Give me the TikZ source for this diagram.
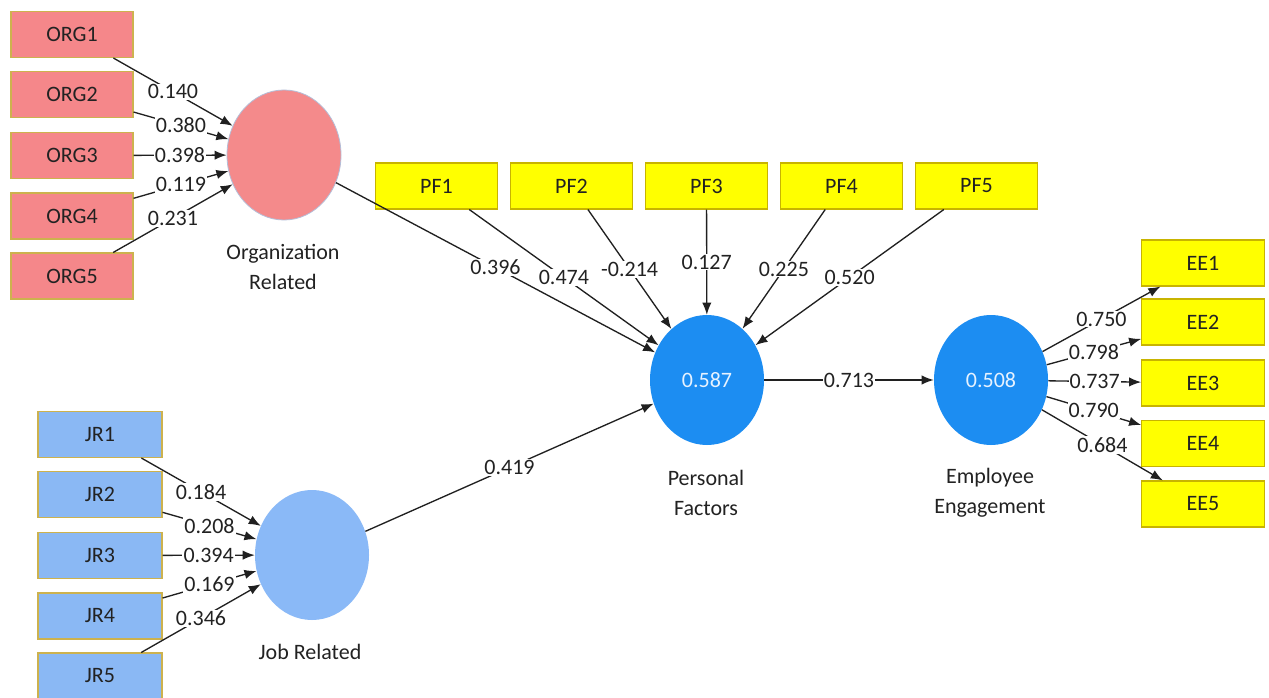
\documentclass[tikz,border=0pt]{standalone}
\usepackage{fontspec}
\setmainfont{Carlito}
\usetikzlibrary{shapes.geometric,arrows.meta}
\definecolor{orgfill}{HTML}{F5878A}
\definecolor{orgcirc}{HTML}{F48A8B}
\definecolor{orgcircborder}{HTML}{B4BED8}
\definecolor{boxborder}{HTML}{CDB24E}
\definecolor{jrfill}{HTML}{8AB8F4}
\definecolor{jrcirc}{HTML}{8AB9F7}
\definecolor{bluec}{HTML}{1C8DF2}
\definecolor{yel}{HTML}{FFFF00}
\definecolor{yelborder}{HTML}{C8B400}
\definecolor{linec}{HTML}{202020}
\definecolor{txt}{HTML}{222222}
\definecolor{circtxt}{HTML}{E6F2FF}
\begin{document}
\begin{tikzpicture}[x=0.75pt,y=-0.75pt,
  basebox/.style={rectangle, line width=0.8pt, minimum height=34.5pt, inner sep=0pt, text=txt, font=\fontsize{16.5}{19}\selectfont},
  orgbox/.style={basebox, draw=boxborder, fill=orgfill, minimum width=91.5pt},
  jrbox/.style={basebox, draw=boxborder, fill=jrfill, minimum width=93pt},
  ybox/.style={basebox, draw=yelborder, fill=yel, minimum width=92pt},
  lat/.style={ellipse, minimum width=85.5pt, minimum height=97.5pt, inner sep=0pt, text=circtxt, font=\fontsize{16.5}{19}\selectfont},
  pth/.style={draw=linec, line width=1pt, -{Latex[length=9pt,width=7pt]}},
  lbl/.style={fill=white, inner sep=0.8pt, text=txt, font=\fontsize{16.5}{19}\selectfont},
  captext/.style={align=center, text=txt, font=\fontsize{16.5}{22.5}\selectfont}
]
\useasboundingbox[fill=white] (0,0) rectangle (1269,698);

% Organization Related
\node[orgbox] (o1) at (72,34.5) {ORG1};
\node[orgbox] (o2) at (72,94.5) {ORG2};
\node[orgbox] (o3) at (72,155.5) {ORG3};
\node[orgbox] (o4) at (72,216) {ORG4};
\node[orgbox] (o5) at (72,276) {ORG5};
\node[lat, fill=orgcirc, draw=orgcircborder, line width=0.6pt] (oc) at (284,155) {};
\node[captext] (ocl) at (283,267) {Organization\\Related};

% Job Related
\node[jrbox] (j1) at (100,434.5) {JR1};
\node[jrbox] (j2) at (100,494.5) {JR2};
\node[jrbox] (j3) at (100,555.5) {JR3};
\node[jrbox] (j4) at (100,616) {JR4};
\node[jrbox] (j5) at (100,676) {JR5};
\node[lat, fill=jrcirc] (jc) at (312,555) {};
\node[captext] (jcl) at (310,652) {Job Related};

% Personal Factors
\node[ybox] (p1) at (436.5,186) {PF1};
\node[ybox] (p2) at (571.5,186) {PF2};
\node[ybox] (p3) at (706.5,186) {PF3};
\node[ybox] (p4) at (841.5,186) {PF4};
\node[ybox] (p5) at (976.5,186) {PF5};
\node[lat, fill=bluec] (pc) at (707,380) {0.587};
\node[captext] (pcl) at (706,493) {Personal\\Factors};

% Employee Engagement
\node[lat, fill=bluec] (ec) at (991,380) {0.508};
\node[captext] (ecl) at (990,493) {Employee\\Engagement};
\node[ybox] (e1) at (1203,263) {EE1};
\node[ybox] (e2) at (1203,322) {EE2};
\node[ybox] (e3) at (1203,383) {EE3};
\node[ybox] (e4) at (1203,443.5) {EE4};
\node[ybox] (e5) at (1203,504) {EE5};

% connectors
\draw[pth] (o1) -- node[lbl]{0.140} (oc);
\draw[pth] (o2) -- node[lbl]{0.380} (oc);
\draw[pth] (o3) -- node[lbl]{0.398} (oc);
\draw[pth] (o4) -- node[lbl]{0.119} (oc);
\draw[pth] (o5) -- node[lbl]{0.231} (oc);

\draw[pth] (j1) -- node[lbl]{0.184} (jc);
\draw[pth] (j2) -- node[lbl]{0.208} (jc);
\draw[pth] (j3) -- node[lbl]{0.394} (jc);
\draw[pth] (j4) -- node[lbl]{0.169} (jc);
\draw[pth] (j5) -- node[lbl]{0.346} (jc);

\draw[pth] (oc) -- node[lbl]{0.396} (pc);
\draw[pth] (jc) -- node[lbl]{0.419} (pc);
\draw[pth] (p1) -- node[lbl]{0.474} (pc);
\draw[pth] (p2) -- node[lbl]{-0.214} (pc);
\draw[pth] (p3) -- node[lbl]{0.127} (pc);
\draw[pth] (p4) -- node[lbl]{0.225} (pc);
\draw[pth] (p5) -- node[lbl]{0.520} (pc);

\draw[pth] (pc) -- node[lbl]{0.713} (ec);

\draw[pth] (ec) -- node[lbl]{0.750} (e1);
\draw[pth] (ec) -- node[lbl]{0.798} (e2);
\draw[pth] (ec) -- node[lbl]{0.737} (e3);
\draw[pth] (ec) -- node[lbl]{0.790} (e4);
\draw[pth] (ec) -- node[lbl]{0.684} (e5);
\end{tikzpicture}
\end{document}
